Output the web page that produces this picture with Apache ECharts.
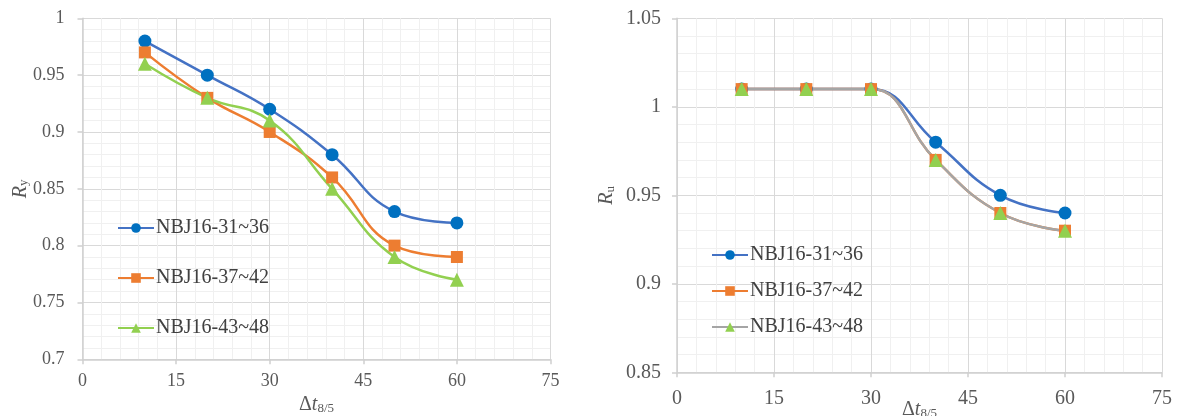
<!DOCTYPE html>
<html>
<head>
<meta charset="utf-8">
<script src="https://cdn.jsdelivr.net/npm/echarts@6/dist/echarts.min.js"></script>
<style>
  html, body { margin: 0; padding: 0; background: #fff; }
  #left { position: absolute; left: 0; top: 0; width: 590px; height: 416px; }
  #right { position: absolute; left: 590px; top: 0; width: 587px; height: 416px; }
</style>
</head>
<body>
<div id="left"></div>
<div id="right"></div>
<script>
// ---- data ----
const xValues = [10, 20, 30, 40, 50, 60];
const seriesNames = ['NBJ16-31~36', 'NBJ16-37~42', 'NBJ16-43~48'];

const ryA = [0.98, 0.95, 0.92, 0.88, 0.83, 0.82];
const ryB = [0.97, 0.93, 0.90, 0.86, 0.80, 0.79];
const ryC = [0.96, 0.93, 0.91, 0.85, 0.79, 0.77];

const ruA = [1.01, 1.01, 1.01, 0.98, 0.95, 0.94];
const ruB = [1.01, 1.01, 1.01, 0.97, 0.94, 0.93];
const ruC = [1.01, 1.01, 1.01, 0.97, 0.94, 0.93];

const xTicks = [0, 15, 30, 45, 60, 75];
const ryTicks = [0.7, 0.75, 0.8, 0.85, 0.9, 0.95, 1];
const ruTicks = [0.85, 0.9, 0.95, 1, 1.05];

// ---- helpers ----
const SERIF = '"Liberation Serif", "DejaVu Serif", serif';
const LABEL = '#595959';

function pairs(ys) { return xValues.map((x, i) => [x, ys[i]]); }

function mkSeries(name, ys, lineColor, markColor, symbol, size) {
  return {
    name: name, type: 'line', smooth: 0.45, data: pairs(ys),
    symbol: symbol, symbolSize: size,
    lineStyle: { color: lineColor, width: 2.5 },
    itemStyle: { color: markColor, borderWidth: 0 },
    emphasis: { disabled: true },
    z: 3
  };
}

function xAxisCfg(fs, margin, gap) {
  return {
    type: 'value', min: xTicks[0], max: xTicks[xTicks.length - 1],
    interval: xTicks[1] - xTicks[0],
    name: '{d|Δ}{t|t}{s|8/5}', nameLocation: 'middle', nameGap: gap,
    nameMoveOverlap: false,
    nameTextStyle: {
      color: LABEL,
      rich: {
        d: { fontFamily: SERIF, fontSize: 20, color: LABEL },
        t: { fontFamily: SERIF, fontSize: 20, fontStyle: 'italic', color: LABEL },
        s: { fontFamily: SERIF, fontSize: 13, color: LABEL, verticalAlign: 'bottom', padding: [8, 0, 0, 0] }
      }
    },
    axisLine: { show: true, lineStyle: { color: '#d0d0d0', width: 1.5 } },
    axisTick: { show: true, length: 5, lineStyle: { color: '#d0d0d0', width: 1.5 } },
    axisLabel: { fontFamily: SERIF, fontSize: fs, color: LABEL, margin: margin },
    splitLine: { show: true, lineStyle: { color: '#d9d9d9', width: 1 } },
    minorTick: { show: false, splitNumber: 5 },
    minorSplitLine: { show: true, lineStyle: { color: '#f0f0f0', width: 1 } }
  };
}

function yAxisCfg(ticks, sub, fs, margin, gap) {
  return {
    type: 'value', min: ticks[0], max: ticks[ticks.length - 1],
    interval: 0.05,
    name: '{r|R}{s|' + sub + '}', nameLocation: 'middle', nameGap: gap,
    nameMoveOverlap: false,
    nameTextStyle: {
      color: LABEL,
      rich: {
        r: { fontFamily: SERIF, fontSize: 20, fontStyle: 'italic', color: LABEL },
        s: { fontFamily: SERIF, fontSize: 13, color: LABEL, verticalAlign: 'bottom' }
      }
    },
    axisLine: { show: true, lineStyle: { color: '#d0d0d0', width: 1.5 } },
    axisTick: { show: true, length: 5, lineStyle: { color: '#d0d0d0', width: 1.5 } },
    axisLabel: { fontFamily: SERIF, fontSize: fs, color: LABEL, margin: margin },
    splitLine: { show: true, lineStyle: { color: '#d9d9d9', width: 1 } },
    minorTick: { show: false, splitNumber: 5 },
    minorSplitLine: { show: true, lineStyle: { color: '#f0f0f0', width: 1 } }
  };
}

function legendCfg(left, top, gap) {
  return {
    orient: 'vertical', left: left, top: top, itemGap: gap, padding: 0,
    itemWidth: 36, itemHeight: 12,
    textStyle: { fontFamily: SERIF, fontSize: 20, color: '#404040', padding: [0, 0, 0, -3] },
    data: seriesNames,
    selectedMode: false
  };
}

// ---- left chart ----
const left = echarts.init(document.getElementById('left'), null, { renderer: 'canvas' });
left.setOption({
  animation: false,
  backgroundColor: '#fff',
  grid: { left: 82.5, right: 39.5, top: 18.3, bottom: 56.7, outerBoundsMode: 'none' },
  xAxis: xAxisCfg(18, 13, 35),
  yAxis: yAxisCfg(ryTicks, 'y', 18, 18, 52),
  legend: legendCfg(117, 218, 30),
  series: [
    mkSeries(seriesNames[0], ryA, '#4472C4', '#0070C0', 'circle', 13),
    mkSeries(seriesNames[1], ryB, '#ED7D31', '#ED7D31', 'rect', 12),
    mkSeries(seriesNames[2], ryC, '#92D050', '#92D050', 'triangle', 14)
  ]
});

// ---- right chart ----
const right = echarts.init(document.getElementById('right'), null, { renderer: 'canvas' });
right.setOption({
  animation: false,
  backgroundColor: '#fff',
  grid: { left: 87, right: 15, top: 18.3, bottom: 43.7, outerBoundsMode: 'none' },
  xAxis: xAxisCfg(20, 16, 27),
  yAxis: yAxisCfg(ruTicks, 'u', 20, 16, 60),
  legend: legendCfg(121, 245, 16),
  series: [
    mkSeries(seriesNames[0], ruA, '#4472C4', '#0070C0', 'circle', 13),
    mkSeries(seriesNames[1], ruB, '#ED7D31', '#ED7D31', 'rect', 12),
    mkSeries(seriesNames[2], ruC, '#A5A5A5', '#92D050', 'triangle', 14)
  ]
});
</script>
</body>
</html>
